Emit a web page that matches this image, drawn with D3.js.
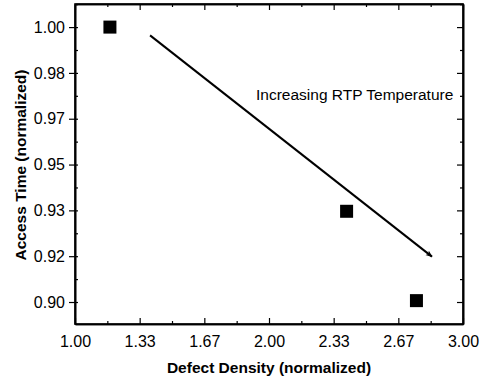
<!DOCTYPE html>
<html><head><meta charset="utf-8">
<script src="https://cdn.jsdelivr.net/npm/d3@7"></script>
<style>body{margin:0;background:#fff}svg{display:block}text{font-family:"Liberation Sans",Arial,sans-serif}</style>
</head><body>
<svg id="c" width="490" height="379"></svg>
<script>
const defectDensity = [1.18, 2.40, 2.76];
const accessTime = [1.000, 0.933, 0.9005];
const xTicks = [1, 4/3, 5/3, 2, 7/3, 8/3, 3];
const xTickLabels = ["1.00","1.33","1.67","2.00","2.33","2.67","3.00"];
const yTicks = [0.9, 0.9+1/60, 0.9+2/60, 0.95, 0.9+4/60, 0.9+5/60, 1.0];
const yTickLabels = ["0.90","0.92","0.93","0.95","0.97","0.98","1.00"];
const arrowX = [1.387, 2.84];
const arrowY = [0.997, 0.9165];
const annotation = "Increasing RTP Temperature";
const xTitle = "Defect Density (normalized)";
const yTitle = "Access Time (normalized)";

const svg = d3.select("#c");
const L=75, R=463, T=4, B=324;
const x = d3.scaleLinear().domain([1,3]).range([L,R]);
const y = d3.scaleLinear().domain([0.892,1.0084]).range([B,T]);

const defs = svg.append("defs");
defs.append("marker").attr("id","ah").attr("viewBox","0 0 10 10").attr("refX",9).attr("refY",5)
  .attr("markerWidth",7).attr("markerHeight",7).attr("markerUnits","userSpaceOnUse").attr("orient","auto")
  .append("path").attr("d","M0,1 L10,5 L0,9 L3,5 Z").attr("fill","#000");

const xMinor = d3.range(0,13).map(i=>1+i/6).filter((v,i)=>i%2===1);
const yMinor = d3.range(0,7).map(i=>0.9+(2*i+1)/120).filter(v=>v<1.0084);

function fmtIdx(arr,labels){return (d)=>{const i=arr.findIndex(v=>Math.abs(v-d)<1e-9);return i>=0?labels[i]:"";};}

const xb = svg.append("g").attr("transform",`translate(0,${B})`)
  .call(d3.axisBottom(x).tickValues(xTicks).tickFormat(fmtIdx(xTicks,xTickLabels)).tickSizeInner(-6).tickSizeOuter(0).tickPadding(12));
const xbm = svg.append("g").attr("transform",`translate(0,${B})`)
  .call(d3.axisBottom(x).tickValues(xMinor).tickFormat("").tickSizeInner(-3).tickSizeOuter(0));
const xt = svg.append("g").attr("transform",`translate(0,${T})`)
  .call(d3.axisTop(x).tickValues(xTicks).tickFormat("").tickSizeInner(-6).tickSizeOuter(0));
const xtm = svg.append("g").attr("transform",`translate(0,${T})`)
  .call(d3.axisTop(x).tickValues(xMinor).tickFormat("").tickSizeInner(-3).tickSizeOuter(0));
const yl = svg.append("g").attr("transform",`translate(${L},0)`)
  .call(d3.axisLeft(y).tickValues(yTicks).tickFormat(fmtIdx(yTicks,yTickLabels)).tickSizeInner(6).tickSizeOuter(0).tickPadding(4));
const ylm = svg.append("g").attr("transform",`translate(${L},0)`)
  .call(d3.axisLeft(y).tickValues(yMinor).tickFormat("").tickSizeInner(-3).tickSizeOuter(0));
const yr = svg.append("g").attr("transform",`translate(${R},0)`)
  .call(d3.axisRight(y).tickValues(yTicks).tickFormat("").tickSizeInner(-6).tickSizeOuter(0));
const yrm = svg.append("g").attr("transform",`translate(${R},0)`)
  .call(d3.axisRight(y).tickValues(yMinor).tickFormat("").tickSizeInner(-3).tickSizeOuter(0));
yl.selectAll(".tick line").attr("x1",3);

[xb,xbm,xt,xtm,yl,ylm,yr,yrm].forEach(g=>{
  g.selectAll(".domain").attr("stroke","#000").attr("stroke-width",1.6);
  g.selectAll(".tick line").attr("stroke","#000").attr("stroke-width",1.2);
  g.selectAll("text").attr("font-size",16).attr("fill","#000");
});

svg.append("rect").attr("x",L).attr("y",T).attr("width",R-L).attr("height",B-T)
  .attr("fill","none").attr("stroke","#000").attr("stroke-width",1.6);

const s=13;
svg.selectAll(".pt").data(defectDensity).enter().append("rect")
  .attr("x",(d)=>x(d)-s/2).attr("y",(d,i)=>y(accessTime[i])-s/2)
  .attr("width",s).attr("height",s).attr("fill","#000");

svg.append("line").attr("x1",x(arrowX[0])).attr("y1",y(arrowY[0])).attr("x2",x(arrowX[1])).attr("y2",y(arrowY[1]))
  .attr("stroke","#000").attr("stroke-width",2).attr("marker-end","url(#ah)");

svg.append("text").attr("x",256).attr("y",100).attr("font-size",15.5).text(annotation);

svg.append("text").attr("x",269).attr("y",373).attr("text-anchor","middle")
  .attr("font-size",15.5).attr("font-weight","bold").text(xTitle);
svg.append("text").attr("transform",`translate(26,165) rotate(-90)`).attr("text-anchor","middle")
  .attr("font-size",15.5).attr("font-weight","bold").text(yTitle);
</script>
</body></html>
